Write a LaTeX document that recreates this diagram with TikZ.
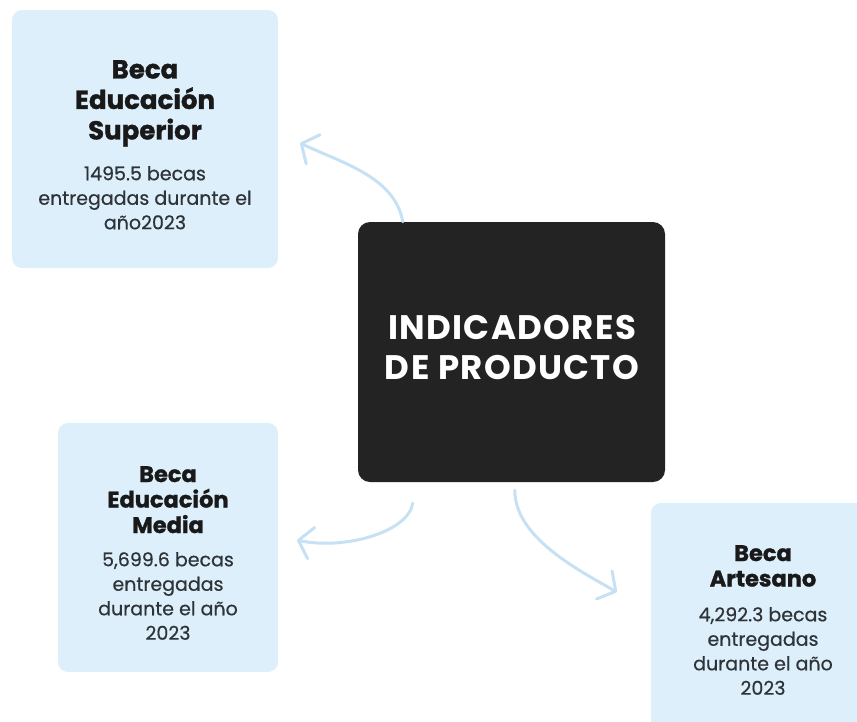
\documentclass[tikz,border=0pt]{standalone}
\usepackage{fontspec}
\setmainfont{Poppins}
\newfontfamily\headfont[BoldFeatures={FakeBold=1.2}]{Poppins}
\newfontfamily\infofont[FakeBold=0.5]{Poppins}
\newfontfamily\capsfont[LetterSpace=4]{Poppins}
\usetikzlibrary{arrows.meta}
\definecolor{cardblue}{HTML}{DDEFFB}
\definecolor{darkcard}{HTML}{232323}
\definecolor{arrowblue}{HTML}{C6E1F3}
\definecolor{inkgray}{HTML}{2E3338}

\begin{document}
\begin{tikzpicture}[x=1pt, y=-1pt,
    card/.style={fill=cardblue, rounded corners=10pt, inner sep=0pt},
    head/.style 2 args={align=center, inner sep=0pt, anchor=north, text=black!90,
      font=\headfont\fontsize{#1}{#2}\selectfont\bfseries},
    info/.style={align=center, inner sep=0pt, anchor=north, text=inkgray,
      font=\infofont\fontsize{19}{24.5}\selectfont},
    link/.style={arrowblue, line width=3pt, line cap=round,
      -{Straight Barb[length=13pt, width=32pt, round]}}]
  \useasboundingbox (0,0) rectangle (857,721);
  \clip (0,0) rectangle (857,721);

  % cards
  \node[card, minimum width=266pt, minimum height=258pt] (supCard) at (145,139) {};
  \node[card, minimum width=220pt, minimum height=249pt] (medCard) at (168,547.5) {};
  \node[card, minimum width=224pt, minimum height=236pt] (artCard) at (763,621) {};
  \node[fill=darkcard, rounded corners=12pt, inner sep=0pt,
        minimum width=307pt, minimum height=260pt] (ctr) at (511.5,352) {};

  % texts
  \node[head={26}{30.5}] (supHead) at (145,60) {Beca\\Educación\\Superior};
  \node[info] (supInfo) at (145,166) {1495.5 becas\\entregadas durante el\\año2023};

  \node[head={22.5}{25.5}] (medHead) at (168,466) {Beca\\Educación\\Media};
  \node[info] (medInfo) at (168,552) {5,699.6 becas\\entregadas\\durante el año\\2023};

  \node[head={22.5}{25.5}] (artHead) at (763,545) {Beca\\Artesano};
  \node[info] (artInfo) at (763,607) {4,292.3 becas\\entregadas\\durante el año\\2023};

  \node[align=center, inner sep=0pt, anchor=north, text=white,
        font=\capsfont\fontsize{34}{40}\selectfont\bfseries] (ctrText) at (512,315)
        {INDICADORES\\DE PRODUCTO};

  % arrows
  \coordinate (tipSup) at (300,143);
  \coordinate (tipMed) at (297,540);
  \coordinate (tipArt) at (617,592);
  \draw[link] ([xshift=45pt]ctr.north west) .. controls +(-8,-45) and +(42,20) .. (tipSup);
  \draw[link] ([xshift=55pt, yshift=-21pt]ctr.south west) .. controls +(-5,30) and +(45,10) .. (tipMed);
  \draw[link] ([xshift=157pt, yshift=-8pt]ctr.south west) .. controls +(0,45) and +(-45,-25) .. (tipArt);
\end{tikzpicture}
\end{document}
